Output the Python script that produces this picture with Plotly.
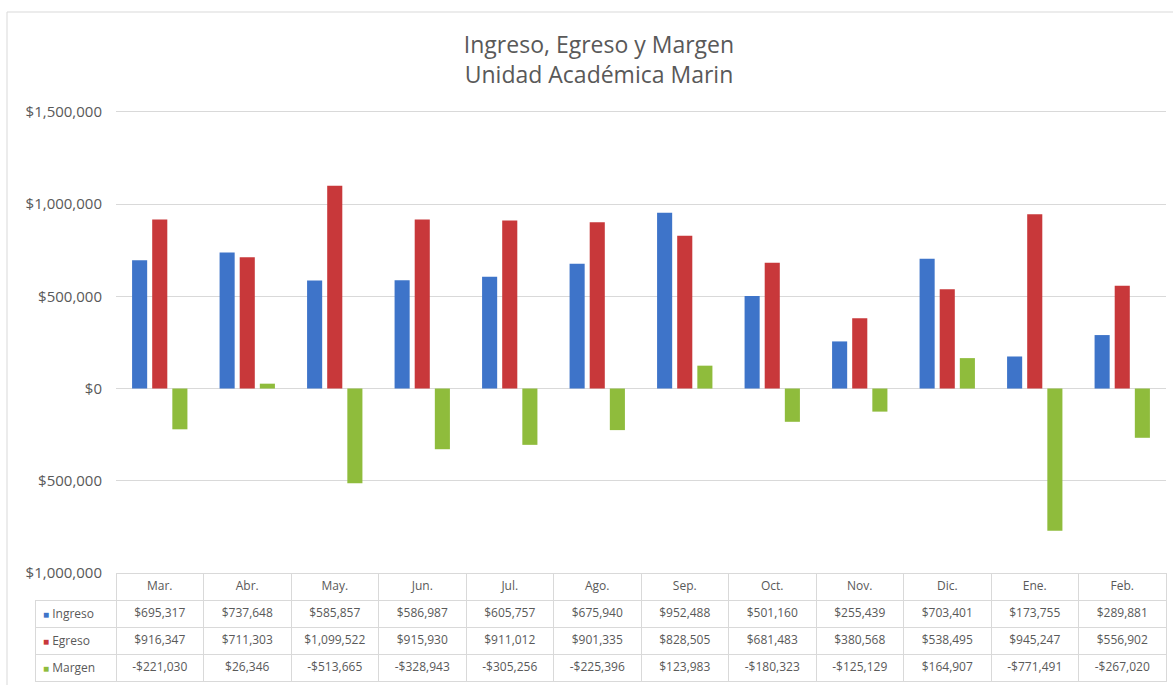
import plotly.graph_objects as go

months = ["Mar.", "Abr.", "May.", "Jun.", "Jul.", "Ago.", "Sep.", "Oct.", "Nov.", "Dic.", "Ene.", "Feb."]
ingreso = [695317, 737648, 585857, 586987, 605757, 675940, 952488, 501160, 255439, 703401, 173755, 289881]
egreso = [916347, 711303, 1099522, 915930, 911012, 901335, 828505, 681483, 380568, 538495, 945247, 556902]
margen = [-221030, 26346, -513665, -328943, -305256, -225396, 123983, -180323, -125129, 164907, -771491, -267020]
tick_vals = [1500000, 1000000, 500000, 0, -500000, -1000000]
tick_text = ["$1,500,000", "$1,000,000", "$500,000", "$0", "$500,000", "$1,000,000"]

series_names = ["Ingreso", "Egreso", "Margen"]
colors = ["#3E74C9", "#C8383A", "#8FBC3C"]
series = [ingreso, egreso, margen]

W, H = 1173, 685
FONT = "Open Sans"
GRAY = "#595959"

PX0, PX1 = 116, 1166      # plot area left / right (px)
PY0, PY1 = 110, 573       # plot area top / bottom (px)
ROW_H = 27

def money(v):
    return ("-$" if v < 0 else "$") + f"{abs(v):,}"

fig = go.Figure()
for name, vals, col in zip(series_names, series, colors):
    fig.add_trace(go.Bar(x=months, y=vals, name=name, marker=dict(color=col, line=dict(width=0)),
                         xaxis="x", yaxis="y", showlegend=False))

# data table
col_w = [PX0 - 35] + [(PX1 - PX0) / 12] * 12
cols = [[""] * 3] + [[money(ingreso[i]), money(egreso[i]), money(margen[i])] for i in range(12)]
fig.add_trace(go.Table(
    domain=dict(x=[35 / W, PX1 / W], y=[1 - 684 / H, 1 - PY1 / H]),
    columnwidth=col_w,
    header=dict(values=[""] + months, height=ROW_H,
                fill=dict(color=["rgba(0,0,0,0)"] + ["white"] * 12),
                line=dict(color=["rgba(0,0,0,0)"] + ["#D9D9D9"] * 12, width=1),
                align="center", font=dict(family=FONT, size=12, color=GRAY)),
    cells=dict(values=cols, height=ROW_H, fill=dict(color="white"),
               line=dict(color="#D9D9D9", width=1),
               align=["left"] + ["center"] * 12,
               font=dict(family=FONT, size=12, color=GRAY)),
))

# row headers of the data table (legend key + series name)
annotations = []
for i, (n, c) in enumerate(zip(series_names, colors)):
    yc = PY1 + ROW_H * (i + 1) + ROW_H / 2
    annotations.append(dict(
        xref="paper", yref="paper", x=41 / W, y=1 - yc / H, xanchor="left", yanchor="middle",
        text=f'<span style="color:{c};font-size:10px">■</span> {n}', showarrow=False,
        font=dict(family=FONT, size=12, color=GRAY)))

fig.update_layout(
    width=W, height=H, autosize=False,
    margin=dict(l=0, r=0, t=0, b=0, autoexpand=False),
    paper_bgcolor="white", plot_bgcolor="white",
    barmode="group", bargap=0.31, bargroupgap=0.25,
    title=dict(text="Ingreso, Egreso y Margen<br>Unidad Académica Marin",
               x=599 / W, xanchor="center", y=1 - 53 / H, yanchor="middle",
               font=dict(family=FONT, size=23, color=GRAY)),
    xaxis=dict(domain=[PX0 / W, PX1 / W], showticklabels=False, showgrid=False,
               showline=False, zeroline=False, ticks="", automargin=False),
    yaxis=dict(domain=[1 - PY1 / H, 1 - PY0 / H], range=[-1000000, 1510000],
               tickvals=tick_vals, ticktext=tick_text, showgrid=True, automargin=False,
               gridcolor="#D9D9D9", gridwidth=1, zeroline=True, zerolinecolor="#D9D9D9",
               zerolinewidth=1, showline=False, ticks="", ticklabelstandoff=13,
               tickfont=dict(family=FONT, size=15, color=GRAY)),
    annotations=annotations,
    shapes=[dict(type="rect", xref="paper", yref="paper", x0=7 / W, x1=1.01,
                 y0=-0.01, y1=1 - 12 / H, line=dict(color="#D9D9D9", width=1),
                 fillcolor="rgba(0,0,0,0)", layer="below")],
)

fig.write_html("out.html", config={"displayModeBar": False},
               post_script="document.body.style.margin='0';document.body.style.overflow='hidden';")
